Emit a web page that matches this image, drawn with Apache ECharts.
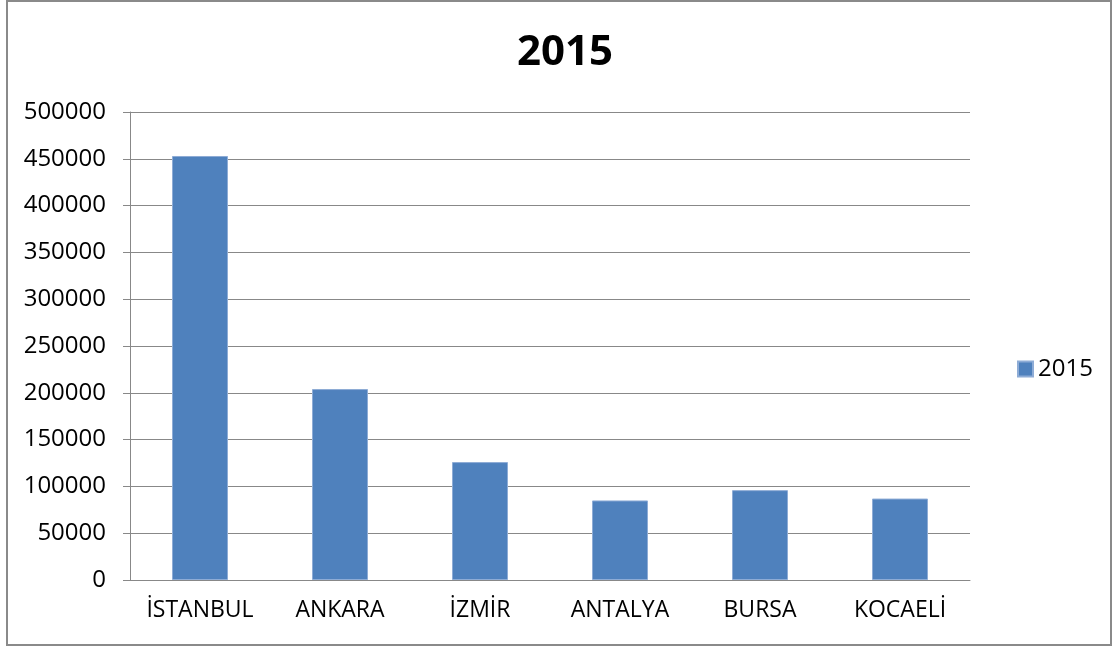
<!DOCTYPE html>
<html>
<head>
<meta charset="utf-8">
<script src="https://cdn.jsdelivr.net/npm/echarts@6/dist/echarts.min.js"></script>
<style>
  html, body { margin: 0; padding: 0; background: #fff; }
  #main { width: 1114px; height: 648px; }
</style>
</head>
<body>
<div id="main"></div>
<script>
const cities = ['İSTANBUL', 'ANKARA', 'İZMİR', 'ANTALYA', 'BURSA', 'KOCAELİ'];
const values2015 = [453000, 204000, 126000, 85000, 96000, 87000];
const seriesName = '2015';
const yMax = 500000;
const yStep = 50000;

function loadChart() {
    var chartDom = document.getElementById('main');
    var myChart = echarts.init(chartDom);
    var option;

    option = {
        animation: false,
        textStyle: { fontFamily: 'Open Sans' },
        title: {
            text: seriesName,
            left: 560,
            top: 27,
            textAlign: 'center',
            textStyle: { fontSize: 42, fontWeight: 'bold', color: '#000', fontFamily: 'Open Sans' }
        },
        legend: {
            data: [{ name: seriesName, icon: 'rect' }],
            left: 1012,
            top: 352,
            itemWidth: 15,
            itemHeight: 15,
            itemGap: 6,
            textStyle: { fontSize: 24, color: '#000', fontFamily: 'Open Sans' }
        },
        grid: { left: 130, right: 144, top: 112, bottom: 68 },
        xAxis: {
            type: 'category',
            data: cities,
            axisLine: { lineStyle: { color: '#888', width: 1 } },
            axisTick: { length: 8, lineStyle: { color: '#888' } },
            axisLabel: { fontSize: 23, color: '#000', margin: 19, interval: 0 }
        },
        yAxis: {
            type: 'value',
            min: 0,
            max: yMax,
            interval: yStep,
            axisLine: { show: true, lineStyle: { color: '#888', width: 1 } },
            axisTick: { show: true, length: 7, lineStyle: { color: '#888' } },
            axisLabel: { fontSize: 24, color: '#000', margin: 24, formatter: (v) => String(v) },
            splitLine: { lineStyle: { color: '#888', width: 1 } }
        },
        series: [
            {
                name: seriesName,
                type: 'bar',
                data: values2015,
                barWidth: 56,
                itemStyle: { color: '#4F81BD', borderColor: '#8EACD6', borderWidth: 1 }
            }
        ],
        graphic: [
            {
                type: 'rect',
                shape: { x: 7, y: 1, width: 1104, height: 644 },
                style: { fill: 'none', stroke: '#8a8a8a', lineWidth: 2 },
                silent: true
            }
        ]
    };

    myChart.setOption(option);
}

document.addEventListener('DOMContentLoaded', () => {
    loadChart();
})
</script>
</body>
</html>
